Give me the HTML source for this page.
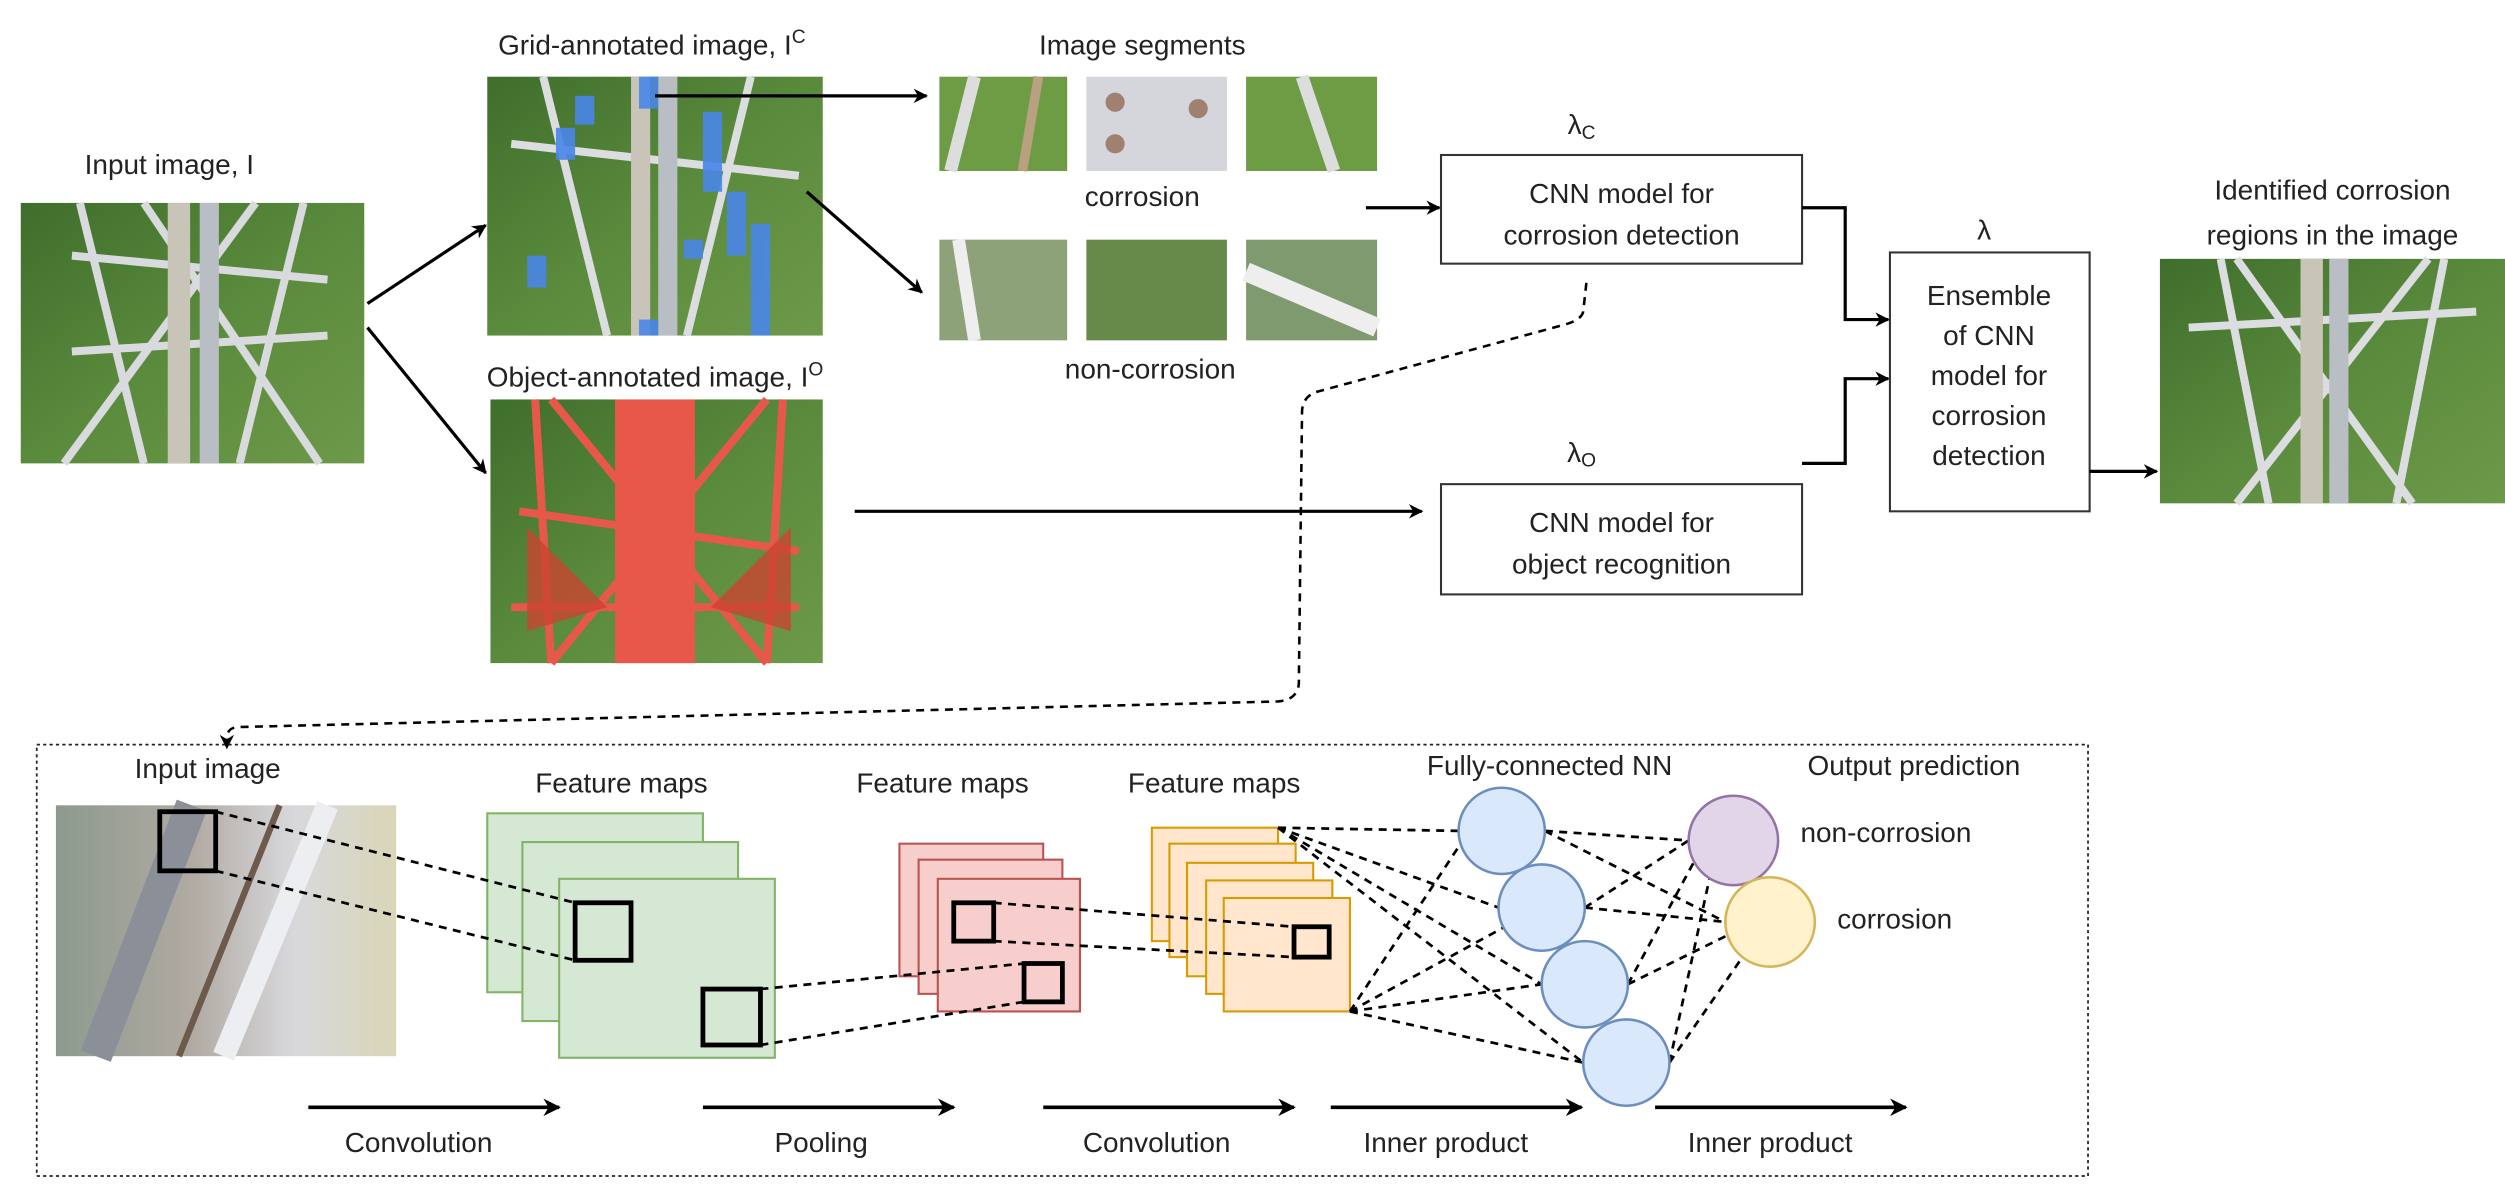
<!DOCTYPE html>
<html><head><meta charset="utf-8"><style>
html,body{margin:0;padding:0;background:#fff;}
svg{display:block;font-family:"Liberation Sans",sans-serif;}
text{fill:#222;font-size:17.5px;}
</style></head><body>
<svg width="2505" height="1192" viewBox="0 0 1568 746" preserveAspectRatio="none" xmlns="http://www.w3.org/2000/svg">
<defs>
<marker id="ah" viewBox="0 0 10 10" refX="9" refY="5" markerWidth="9" markerHeight="9" orient="auto" markerUnits="userSpaceOnUse"><path d="M0,0 L10,5 L0,10 L3,5 z" fill="#000"/></marker>
<marker id="ah2" viewBox="0 0 10 10" refX="9" refY="5" markerWidth="11" markerHeight="11" orient="auto" markerUnits="userSpaceOnUse"><path d="M0,0 L10,5 L0,10 L3,5 z" fill="#000"/></marker>
<linearGradient id="g1" x1="0" y1="0" x2="1" y2="1"><stop offset="0" stop-color="#3f6e2c"/><stop offset="0.5" stop-color="#5a8a3c"/><stop offset="1" stop-color="#6d9a49"/></linearGradient>
<linearGradient id="g2" x1="0" y1="0" x2="1" y2="0"><stop offset="0" stop-color="#8d9a8e"/><stop offset="0.4" stop-color="#b0aaa2"/><stop offset="0.7" stop-color="#d8d8dc"/><stop offset="1" stop-color="#d9d6b8"/></linearGradient>
</defs>

<text x="106" y="109" text-anchor="middle">Input image, I</text>
<g>
<rect x="13" y="127" width="215" height="163" fill="url(#g1)"/>
<g stroke="#d8dade" stroke-width="5" fill="none">
<line x1="50" y1="127" x2="90" y2="290"/><line x1="190" y1="127" x2="150" y2="290"/>
<line x1="90" y1="127" x2="200" y2="290"/><line x1="160" y1="127" x2="40" y2="290"/>
<line x1="45" y1="160" x2="205" y2="175"/><line x1="45" y1="220" x2="205" y2="210"/>
</g>
<rect x="105" y="127" width="14" height="163" fill="#c9c4b8"/><rect x="125" y="127" width="12" height="163" fill="#b9bdc4"/>
</g>

<line x1="230" y1="190" x2="304" y2="141" stroke="#000" stroke-width="2" marker-end="url(#ah)"/>
<line x1="230" y1="205" x2="304" y2="296" stroke="#000" stroke-width="2" marker-end="url(#ah)"/>

<text x="408" y="34" text-anchor="middle">Grid-annotated image, I<tspan dy="-7" font-size="12">C</tspan></text>
<rect x="305" y="48" width="210" height="162" fill="url(#g1)"/>
<g stroke="#dcdde0" stroke-width="5"><line x1="340" y1="48" x2="380" y2="210"/><line x1="470" y1="48" x2="430" y2="210"/><line x1="320" y1="90" x2="500" y2="110"/></g>
<rect x="395" y="48" width="12" height="162" fill="#c9c4b8"/><rect x="412" y="48" width="12" height="162" fill="#b9bdc4"/>
<g fill="#4a86e8" opacity="0.9">
<rect x="400" y="48" width="12" height="20"/><rect x="360" y="60" width="12" height="18"/><rect x="348" y="80" width="12" height="20"/>
<rect x="440" y="70" width="12" height="50"/><rect x="455" y="120" width="12" height="40"/><rect x="470" y="140" width="12" height="70"/>
<rect x="330" y="160" width="12" height="20"/><rect x="400" y="200" width="12" height="10"/><rect x="428" y="150" width="12" height="12"/>
</g>

<text x="410" y="242" text-anchor="middle">Object-annotated image, I<tspan dy="-7" font-size="12">O</tspan></text>
<rect x="307" y="250" width="208" height="165" fill="url(#g1)"/>
<g stroke="#e8584a" stroke-width="5" fill="none">
<line x1="335" y1="250" x2="345" y2="415"/><line x1="490" y1="250" x2="480" y2="415"/>
<line x1="345" y1="250" x2="480" y2="415"/><line x1="480" y1="250" x2="345" y2="415"/>
<line x1="320" y1="380" x2="500" y2="380"/><line x1="325" y1="320" x2="500" y2="345"/>
</g>
<rect x="385" y="250" width="50" height="165" fill="#e8584a"/>
<polygon points="330,330 380,380 330,395" fill="#c9452f" opacity="0.8"/><polygon points="495,330 445,380 495,395" fill="#c9452f" opacity="0.8"/>

<text x="715" y="34" text-anchor="middle">Image segments</text>
<rect x="588" y="48" width="80" height="59" fill="#6e9c45"/><line x1="610" y1="48" x2="595" y2="107" stroke="#ddd" stroke-width="8"/><line x1="650" y1="48" x2="640" y2="107" stroke="#b8a080" stroke-width="6"/>
<rect x="680" y="48" width="88" height="59" fill="#d4d6dc"/><circle cx="698" cy="64" r="6" fill="#a08070"/><circle cx="698" cy="90" r="6" fill="#a08070"/><circle cx="750" cy="68" r="6" fill="#a08070"/>
<rect x="780" y="48" width="82" height="59" fill="#6e9c45"/><line x1="815" y1="48" x2="835" y2="107" stroke="#ddd" stroke-width="8"/>
<text x="715" y="129" text-anchor="middle">corrosion</text>
<rect x="588" y="150" width="80" height="63" fill="#8ea27a"/><line x1="600" y1="150" x2="610" y2="213" stroke="#eee" stroke-width="8"/>
<rect x="680" y="150" width="88" height="63" fill="#668a4a"/>
<rect x="780" y="150" width="82" height="63" fill="#7f9a6e"/><line x1="780" y1="170" x2="862" y2="205" stroke="#eee" stroke-width="12"/>
<text x="720" y="237" text-anchor="middle">non-corrosion</text>

<line x1="410" y1="60" x2="580" y2="60" stroke="#000" stroke-width="2" marker-end="url(#ah)"/>
<line x1="505" y1="120" x2="577" y2="183" stroke="#000" stroke-width="2" marker-end="url(#ah)"/>

<line x1="855" y1="130" x2="901" y2="130" stroke="#000" stroke-width="2" marker-end="url(#ah)"/>
<text x="990" y="84" text-anchor="middle">λ<tspan font-size="12" dy="3">C</tspan></text>
<rect x="902" y="97" width="226" height="68" fill="#fff" stroke="#333" stroke-width="1.3"/>
<text x="1015" y="127" text-anchor="middle">CNN model for</text>
<text x="1015" y="153" text-anchor="middle">corrosion detection</text>

<text x="990" y="289" text-anchor="middle">λ<tspan font-size="12" dy="3">O</tspan></text>
<rect x="902" y="303" width="226" height="69" fill="#fff" stroke="#333" stroke-width="1.3"/>
<text x="1015" y="333" text-anchor="middle">CNN model for</text>
<text x="1015" y="359" text-anchor="middle">object recognition</text>
<line x1="535" y1="320" x2="890" y2="320" stroke="#000" stroke-width="2" marker-end="url(#ah)"/>

<polyline points="1128,130 1155,130 1155,200 1182,200" fill="none" stroke="#000" stroke-width="2" marker-end="url(#ah)"/>
<polyline points="1128,290 1155,290 1155,237 1182,237" fill="none" stroke="#000" stroke-width="2" marker-end="url(#ah)"/>

<text x="1242" y="150" text-anchor="middle">λ</text>
<rect x="1183" y="158" width="125" height="162" fill="#fff" stroke="#333" stroke-width="1.3"/>
<text x="1245" y="191" text-anchor="middle">Ensemble</text>
<text x="1245" y="216" text-anchor="middle">of CNN</text>
<text x="1245" y="241" text-anchor="middle">model for</text>
<text x="1245" y="266" text-anchor="middle">corrosion</text>
<text x="1245" y="291" text-anchor="middle">detection</text>
<line x1="1308" y1="295" x2="1350" y2="295" stroke="#000" stroke-width="2" marker-end="url(#ah)"/>

<text x="1460" y="125" text-anchor="middle">Identified corrosion</text>
<text x="1460" y="153" text-anchor="middle">regions in the image</text>
<rect x="1352" y="162" width="216" height="153" fill="url(#g1)"/>
<g stroke="#dcdde0" stroke-width="5"><line x1="1390" y1="162" x2="1420" y2="315"/><line x1="1530" y1="162" x2="1500" y2="315"/><line x1="1400" y1="162" x2="1510" y2="315"/><line x1="1520" y1="162" x2="1400" y2="315"/><line x1="1370" y1="205" x2="1550" y2="195"/></g>
<rect x="1440" y="162" width="14" height="153" fill="#c9c4b8"/><rect x="1458" y="162" width="12" height="153" fill="#b9bdc4"/>

<path d="M993,177 L991,195 Q990,200 980,203 L825,245 Q815,248 815,258 L813,428 Q812,438 800,439 L150,455 Q142,455 142,462 L142,468" fill="none" stroke="#000" stroke-width="1.6" stroke-dasharray="5,4" marker-end="url(#ah)"/>

<rect x="23" y="466" width="1284" height="270" fill="none" stroke="#222" stroke-width="1.1" stroke-dasharray="2,2"/>

<text x="130" y="487" text-anchor="middle">Input image</text>
<text x="389" y="496" text-anchor="middle">Feature maps</text>
<text x="590" y="496" text-anchor="middle">Feature maps</text>
<text x="760" y="496" text-anchor="middle">Feature maps</text>
<text x="970" y="485" text-anchor="middle">Fully-connected NN</text>
<text x="1198" y="485" text-anchor="middle">Output prediction</text>

<rect x="35" y="504" width="213" height="157" fill="url(#g2)"/>
<line x1="60" y1="661" x2="120" y2="504" stroke="#8a8f98" stroke-width="20"/>
<line x1="112" y1="661" x2="175" y2="504" stroke="#6e5a4c" stroke-width="4"/>
<line x1="140" y1="661" x2="205" y2="504" stroke="#eceef2" stroke-width="14"/>
<rect x="100" y="508" width="35" height="37" fill="none" stroke="#000" stroke-width="3"/>

<g fill="#d5e8d4" stroke="#82b366" stroke-width="1.3">
<rect x="305" y="509" width="135" height="112"/><rect x="327" y="527" width="135" height="112"/><rect x="350" y="550" width="135" height="112"/>
</g>
<rect x="360" y="565" width="35" height="36" fill="none" stroke="#000" stroke-width="3"/>
<rect x="440" y="619" width="36" height="35" fill="none" stroke="#000" stroke-width="3"/>

<g fill="#f8cecc" stroke="#b85450" stroke-width="1.3">
<rect x="563" y="528" width="90" height="83"/><rect x="575" y="538" width="90" height="84"/><rect x="587" y="550" width="89" height="83"/>
</g>
<rect x="597" y="565" width="25" height="24" fill="none" stroke="#000" stroke-width="3"/>
<rect x="641" y="603" width="24" height="24" fill="none" stroke="#000" stroke-width="3"/>

<g fill="#ffe6cc" stroke="#d79b00" stroke-width="1.3">
<rect x="721" y="518" width="79" height="71"/><rect x="732" y="528" width="79" height="71"/><rect x="743" y="540" width="79" height="71"/><rect x="755" y="551" width="79" height="71"/><rect x="766" y="562" width="79" height="71"/>
</g>
<rect x="810" y="580" width="22" height="19" fill="none" stroke="#000" stroke-width="3"/>

<g stroke="#000" stroke-width="1.7" stroke-dasharray="5,4" fill="none">
<line x1="135" y1="508" x2="360" y2="565"/><line x1="135" y1="545" x2="360" y2="601"/>
<line x1="476" y1="619" x2="641" y2="603"/><line x1="476" y1="654" x2="641" y2="627"/>
<line x1="622" y1="565" x2="810" y2="580"/><line x1="622" y1="589" x2="810" y2="599"/>
<line x1="800" y1="518" x2="913" y2="520"/><line x1="800" y1="518" x2="938" y2="568"/><line x1="800" y1="518" x2="965" y2="616"/><line x1="800" y1="518" x2="991" y2="665"/>
<line x1="845" y1="633" x2="913" y2="530"/><line x1="845" y1="633" x2="942" y2="580"/><line x1="845" y1="633" x2="965" y2="616"/><line x1="845" y1="633" x2="991" y2="665"/>
<line x1="967" y1="520" x2="1057" y2="526"/><line x1="967" y1="520" x2="1080" y2="577"/>
<line x1="992" y1="568" x2="1057" y2="526"/><line x1="992" y1="568" x2="1080" y2="577"/>
<line x1="1019" y1="616" x2="1060" y2="540"/><line x1="1019" y1="616" x2="1082" y2="585"/>
<line x1="1045" y1="665" x2="1070" y2="550"/><line x1="1045" y1="665" x2="1090" y2="600"/>
</g>

<g fill="#dae8fc" stroke="#6c8ebf" stroke-width="1.6">
<circle cx="940" cy="520" r="27"/><circle cx="965" cy="568" r="27"/><circle cx="992" cy="616" r="27"/><circle cx="1018" cy="665" r="27"/>
</g>
<circle cx="1085" cy="526" r="28" fill="#e1d5e7" stroke="#9673a6" stroke-width="1.6"/>
<circle cx="1108" cy="577" r="28" fill="#fff2cc" stroke="#d6b656" stroke-width="1.6"/>
<text x="1127" y="527">non-corrosion</text>
<text x="1150" y="581">corrosion</text>

<g stroke="#000" stroke-width="2.2" marker-end="url(#ah2)">
<line x1="193" y1="693" x2="350" y2="693"/><line x1="440" y1="693" x2="597" y2="693"/><line x1="653" y1="693" x2="810" y2="693"/><line x1="833" y1="693" x2="990" y2="693"/><line x1="1036" y1="693" x2="1193" y2="693"/>
</g>
<text x="262" y="721" text-anchor="middle">Convolution</text>
<text x="514" y="721" text-anchor="middle">Pooling</text>
<text x="724" y="721" text-anchor="middle">Convolution</text>
<text x="905" y="721" text-anchor="middle">Inner product</text>
<text x="1108" y="721" text-anchor="middle">Inner product</text>
</svg>
</body></html>
